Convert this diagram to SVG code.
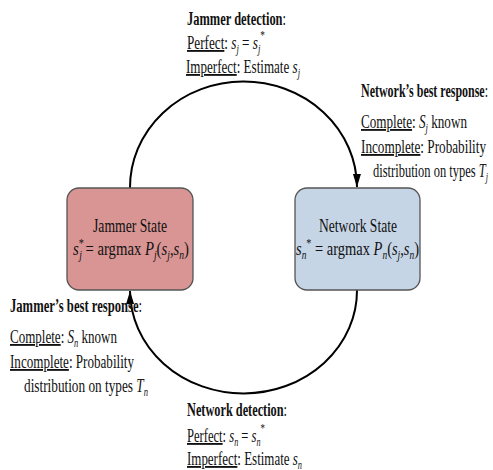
<svg xmlns="http://www.w3.org/2000/svg" width="493" height="470" viewBox="0 0 493 470">
<style>
.t{font-family:"Liberation Serif","Times New Roman",serif;font-size:18.5px;fill:#111}
.b{font-weight:bold}
.i{font-style:italic}
.u{text-decoration:underline}
.s{font-size:12px;font-style:italic}
.st{font-size:13px}
.e{text-anchor:end}
.arc{fill:none;stroke:#000;stroke-width:2}
</style>
<defs>
<marker id="ah" markerUnits="userSpaceOnUse" markerWidth="14" markerHeight="10" refX="13" refY="4" orient="auto">
<path d="M0,0 L13,4 L0,8 Z" fill="#000"/>
</marker>
</defs>
<rect width="493" height="470" fill="#fff"/>
<g id="connectors">
<path class="arc" d="M130,188 A113.5 106 0 0 1 357,187" marker-end="url(#ah)"/>
<path class="arc" d="M357,290 A113.5 103 0 0 1 130,291" marker-end="url(#ah)"/>
</g>
<g id="jammer-state">
<rect x="67" y="188" width="126" height="102" rx="12" fill="#d99594" stroke="#555" stroke-width="1.3"/>
<text class="t" x="93" y="232" textLength="74" lengthAdjust="spacingAndGlyphs">Jammer State</text>
<text class="t" x="73" y="255" textLength="116" lengthAdjust="spacingAndGlyphs"><tspan class="i">s</tspan><tspan class="st" dy="-8">*</tspan><tspan class="s" dx="-6" dy="12">j</tspan><tspan dy="-4"> = argmax </tspan><tspan class="i">P</tspan><tspan class="s" dy="4">j</tspan><tspan dy="-4">(</tspan><tspan class="i">s</tspan><tspan class="s" dy="4">j</tspan><tspan dy="-4">,</tspan><tspan class="i">s</tspan><tspan class="s" dy="4">n</tspan><tspan dy="-4">)</tspan></text>
</g>
<g id="network-state">
<rect x="295" y="188" width="125" height="102" rx="12" fill="#c6d5e6" stroke="#555" stroke-width="1.3"/>
<text class="t" x="319" y="232" textLength="78" lengthAdjust="spacingAndGlyphs">Network State</text>
<text class="t" x="296" y="255" textLength="123" lengthAdjust="spacingAndGlyphs"><tspan class="i">s</tspan><tspan class="s" dy="4">n</tspan><tspan class="st" dy="-12">*</tspan><tspan dy="8"> = argmax </tspan><tspan class="i">P</tspan><tspan class="s" dy="4">n</tspan><tspan dy="-4">(</tspan><tspan class="i">s</tspan><tspan class="s" dy="4">j</tspan><tspan dy="-4">,</tspan><tspan class="i">s</tspan><tspan class="s" dy="4">n</tspan><tspan dy="-4">)</tspan></text>
</g>
<g id="jammer-detection">
<text class="t" x="187" y="25" textLength="99" lengthAdjust="spacingAndGlyphs"><tspan class="b">Jammer detection</tspan>:</text>
<text class="t" x="187" y="49" textLength="78" lengthAdjust="spacingAndGlyphs"><tspan class="u">Perfect</tspan>:  <tspan class="i">s</tspan><tspan class="s" dy="4">j</tspan><tspan dy="-4"> = </tspan><tspan class="i">s</tspan><tspan class="s" dy="4">j</tspan><tspan class="st" dy="-14">*</tspan></text>
<text class="t" x="186" y="73" textLength="114" lengthAdjust="spacingAndGlyphs"><tspan class="u">Imperfect</tspan>:  Estimate <tspan class="i">s</tspan><tspan class="s" dy="4">j</tspan></text>
</g>
<g id="network-best-response">
<text class="t e" x="488" y="97" textLength="127" lengthAdjust="spacingAndGlyphs"><tspan class="b">Network’s best response</tspan>:</text>
<text class="t" x="361" y="128" textLength="106" lengthAdjust="spacingAndGlyphs"><tspan class="u">Complete</tspan>:  <tspan class="i">S</tspan><tspan class="s" dy="4">j</tspan><tspan dy="-4"> known</tspan></text>
<text class="t e" x="486" y="153" textLength="125" lengthAdjust="spacingAndGlyphs"><tspan class="u">Incomplete</tspan>:  Probability</text>
<text class="t e" x="488" y="177" textLength="115" lengthAdjust="spacingAndGlyphs">distribution on types <tspan class="i">T</tspan><tspan class="s" dy="4">j</tspan></text>
</g>
<g id="jammer-best-response">
<text class="t" x="10" y="312" textLength="132" lengthAdjust="spacingAndGlyphs"><tspan class="b">Jammer’s best response</tspan>:</text>
<text class="t" x="10" y="343" textLength="107" lengthAdjust="spacingAndGlyphs"><tspan class="u">Complete</tspan>:  <tspan class="i">S</tspan><tspan class="s" dy="4">n</tspan><tspan dy="-4"> known</tspan></text>
<text class="t" x="10" y="368" textLength="124" lengthAdjust="spacingAndGlyphs"><tspan class="u">Incomplete</tspan>:  Probability</text>
<text class="t" x="24" y="392" textLength="124" lengthAdjust="spacingAndGlyphs">distribution on types <tspan class="i">T</tspan><tspan class="s" dy="4">n</tspan></text>
</g>
<g id="network-detection">
<text class="t" x="187" y="416" textLength="100" lengthAdjust="spacingAndGlyphs"><tspan class="b">Network detection</tspan>:</text>
<text class="t" x="187" y="442" textLength="78" lengthAdjust="spacingAndGlyphs"><tspan class="u">Perfect</tspan>:  <tspan class="i">s</tspan><tspan class="s" dy="4">n</tspan><tspan dy="-4"> = </tspan><tspan class="i">s</tspan><tspan class="s" dy="4">n</tspan><tspan class="st" dy="-14">*</tspan></text>
<text class="t" x="187" y="465" textLength="115" lengthAdjust="spacingAndGlyphs"><tspan class="u">Imperfect</tspan>:  Estimate <tspan class="i">s</tspan><tspan class="s" dy="4">n</tspan></text>
</g>
</svg>
